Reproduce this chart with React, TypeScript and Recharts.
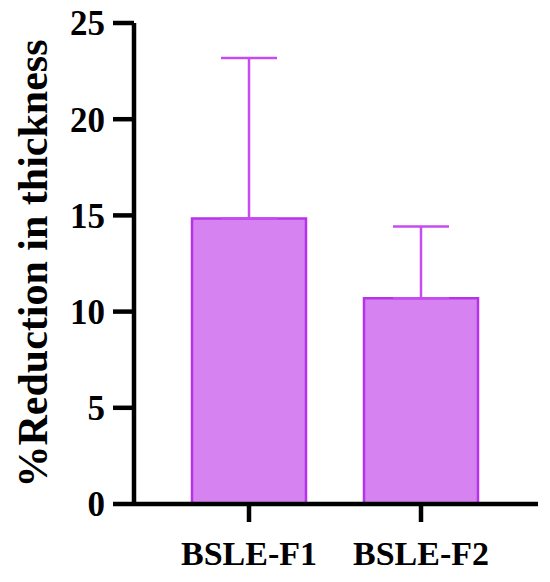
import React from "react";
import { BarChart, Bar, XAxis, YAxis, ErrorBar } from "recharts";

const categories = ["BSLE-F1", "BSLE-F2"];
const reduction = [14.84, 10.7];
const errorUp = [8.34, 3.72];
const yTicks = [0, 5, 10, 15, 20, 25];

const data = categories.map((name, i) => ({
  name,
  value: reduction[i],
  err: [0, errorUp[i]],
}));

const FONT = "'Liberation Serif', 'Times New Roman', serif";

const App: React.FC = () => {
  return (
    <div style={{ position: "absolute", left: 0, top: 0, width: 550, height: 582, background: "#fff" }}>
      <BarChart
        width={550}
        height={582}
        data={data}
        margin={{ top: 23, right: 12, bottom: 0, left: 0 }}
        barCategoryGap={0}
      >
        <XAxis
          dataKey="name"
          height={78}
          padding={{ left: 29, right: 31 }}
          axisLine={{ stroke: "#000", strokeWidth: 4.5 }}
          tickLine={{ stroke: "#000", strokeWidth: 4.5 }}
          tickSize={18}
          tickMargin={19}
          tick={{ fill: "#000", fontFamily: FONT, fontWeight: 700, fontSize: 34 }}
        />
        <YAxis
          width={134}
          domain={[0, 25]}
          ticks={yTicks}
          interval={0}
          axisLine={{ stroke: "#000", strokeWidth: 4.5 }}
          tickLine={{ stroke: "#000", strokeWidth: 4.5 }}
          tickSize={21}
          tickMargin={8}
          tick={{ fill: "#000", fontFamily: FONT, fontWeight: 700, fontSize: 35 }}
          label={{
            value: "%Reduction in thickness",
            angle: -90,
            position: "insideLeft",
            offset: 32,
            dy: 0,
            style: { textAnchor: "middle", fill: "#000", fontFamily: FONT, fontWeight: 700, fontSize: 42 },
          }}
        />
        <Bar
          dataKey="value"
          barSize={114}
          fill="#d682f0"
          stroke="#b733ea"
          strokeWidth={2.5}
          isAnimationActive={false}
        >
          <ErrorBar dataKey="err" width={28} stroke="#c44cf0" strokeWidth={2.5} direction="y" />
        </Bar>
      </BarChart>
    </div>
  );
};

export default App;
